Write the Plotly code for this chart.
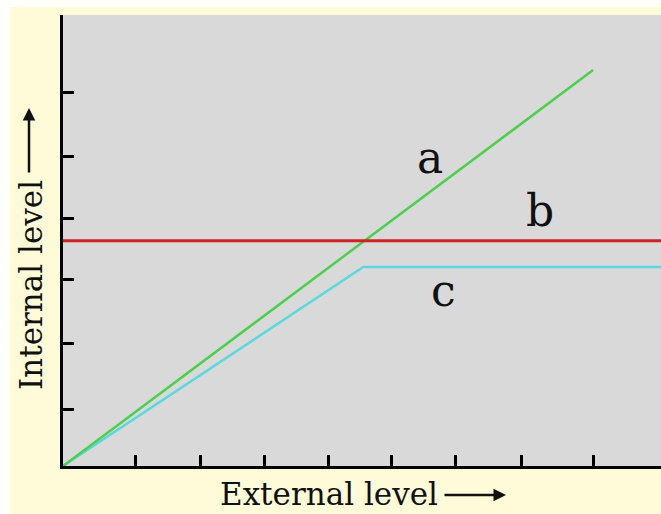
import plotly.graph_objects as go

# Axis extents (arbitrary level units)
X_MAX = 9.34
Y_MAX = 7.05

# Tick positions along each axis
x_ticks = [1.14, 2.14, 3.14, 4.14, 5.125, 6.125, 7.16, 8.28]
y_ticks = [0.89, 1.92, 2.91, 3.875, 4.84, 5.84]

# Curve a: internal level rises with the external level
a_x = [0.0, 8.28]
a_y = [0.0, 6.19]
# Curve b: internal level held constant
b_x = [0.0, X_MAX]
b_y = [3.52, 3.52]
# Curve c: rises, then levels off
c_x = [0.0, 4.69, X_MAX]
c_y = [0.0, 3.11, 3.11]

curve_labels = ["a", "b", "c"]
label_x = [5.73, 7.45, 5.94]
label_y = [4.83, 4.0, 2.75]

W, H = 661, 514
ML, MR, MT, MB = 63, 0, 15, 48
PW, PH = W - ML - MR, H - MT - MB


def px_x(p):
    return (p - ML) / PW


def px_y(p):
    return (H - MB - p) / PH


fig = go.Figure()
fig.add_trace(go.Scatter(x=c_x, y=c_y, mode="lines",
                         line=dict(color="#5ad8dc", width=2.5), hoverinfo="skip"))
fig.add_trace(go.Scatter(x=a_x, y=a_y, mode="lines",
                         line=dict(color="#4ccf4c", width=2.5), hoverinfo="skip"))
fig.add_trace(go.Scatter(x=b_x, y=b_y, mode="lines",
                         line=dict(color="#d02222", width=3), hoverinfo="skip"))

serif = "DejaVu Serif"
ink = "#111111"
annotations = []
for t, x, y in zip(curve_labels, label_x, label_y):
    annotations.append(dict(x=x, y=y, xref="x", yref="y", text=t, showarrow=False,
                            xanchor="center", yanchor="middle",
                            font=dict(family=serif, size=44, color=ink)))

# Axis titles with arrows
annotations.append(dict(x=px_x(329), y=px_y(494), xref="paper", yref="paper",
                        text="External level", showarrow=False,
                        xanchor="center", yanchor="middle",
                        font=dict(family=serif, size=31, color=ink)))
annotations.append(dict(x=px_x(506), y=px_y(495), xref="paper", yref="paper",
                        text="", showarrow=True, ax=-63, ay=0,
                        arrowhead=2, arrowsize=1, arrowwidth=2.5, arrowcolor=ink))
annotations.append(dict(x=px_x(31), y=px_y(285), xref="paper", yref="paper",
                        text="Internal level", textangle=-90, showarrow=False,
                        xanchor="center", yanchor="middle",
                        font=dict(family=serif, size=31, color=ink)))
annotations.append(dict(x=px_x(29), y=px_y(108), xref="paper", yref="paper",
                        text="", showarrow=True, ax=0, ay=66,
                        arrowhead=2, arrowsize=1, arrowwidth=2.5, arrowcolor=ink))

shapes = [
    # white border strips on the left and top
    dict(type="rect", xref="paper", yref="paper", x0=px_x(0), x1=px_x(10),
         y0=px_y(H), y1=px_y(0), fillcolor="white", line=dict(width=0), layer="below"),
    dict(type="rect", xref="paper", yref="paper", x0=px_x(0), x1=px_x(W),
         y0=px_y(7), y1=px_y(0), fillcolor="white", line=dict(width=0), layer="below"),
]

axis_common = dict(showline=True, linecolor="black", linewidth=3, ticks="inside",
                   ticklen=11, tickwidth=3, tickcolor="black", showticklabels=False,
                   showgrid=False, zeroline=False)

fig.update_layout(
    width=W, height=H,
    margin=dict(l=ML, r=MR, t=MT, b=MB),
    paper_bgcolor="#fefcd8",
    plot_bgcolor="#d9d9d9",
    showlegend=False,
    xaxis=dict(range=[0, X_MAX], tickvals=x_ticks, **axis_common),
    yaxis=dict(range=[0, Y_MAX], tickvals=y_ticks, **axis_common),
    annotations=annotations,
    shapes=shapes,
)

fig.write_html("out.html")
